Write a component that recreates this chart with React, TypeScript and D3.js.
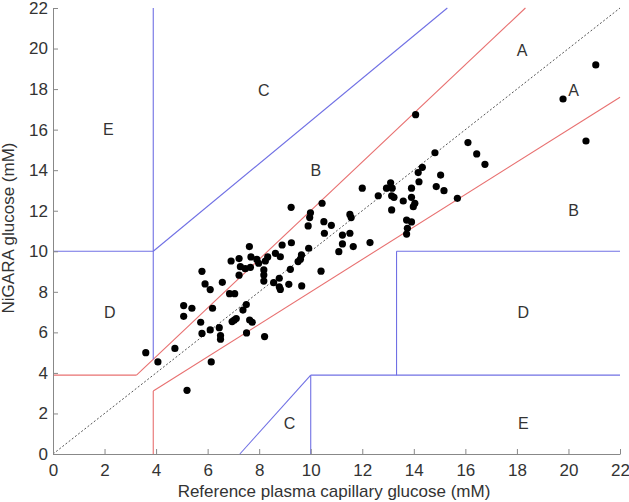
import * as d3 from 'd3'
import { useEffect, useRef } from 'react'

// reference glucose (mM) vs NiGARA glucose (mM)
const REF = [
  3.6, 4.07, 4.73, 5.2, 6.14, 5.07, 5.39, 5.07, 5.78, 5.9, 6.1, 6.57, 6.19, 5.73, 5.78, 6.1, 6.45, 6.5,
  6.5, 6.85, 7.05, 6.91, 7.22, 7.62, 7.68, 7.27, 7.46, 7.66, 7.22, 7.91, 7.98, 7.5, 7.37, 7.11, 6.95,
  7.03, 7.63, 7.73, 7.51, 8.21, 8.18, 8.18, 8.18, 8.24, 8.33, 8.63, 8.82, 8.89, 9.25, 9.21, 8.56, 8.78,
  8.78, 8.82, 9.15, 9.65, 9.64, 9.6, 9.51, 9.92, 9.9, 10.4, 12.0, 12.62, 9.24, 10.44, 9.99, 9.96, 10.51,
  10.8, 10.53, 11.52, 11.57, 11.23, 11.52, 11.23, 11.65, 11.09, 12.3, 12.94, 13.1, 13.16, 13.14, 13.23,
  13.14, 13.59, 13.91, 13.91, 14.04, 13.98, 13.72, 13.91, 13.75, 13.72, 14.2, 14.17, 14.33, 14.82,
  14.87, 15.17, 15.04, 15.69, 16.1, 16.44, 16.76, 14.07, 19.79, 21.06, 20.68,
]
const NIGARA = [
  5.0, 4.54, 5.21, 3.14, 4.54, 7.32, 7.19, 6.79, 9.01, 8.39, 8.11, 8.47, 7.19, 6.5, 5.95, 6.12, 6.23, 5.84,
  5.66, 7.91, 7.91, 9.52, 9.64, 10.23, 9.72, 9.24, 9.14, 9.21, 8.82, 9.6, 9.41, 7.37, 7.1, 6.68, 6.53,
  6.6, 6.61, 6.5, 5.97, 5.79, 9.08, 8.83, 8.53, 9.52, 9.72, 9.9, 9.73, 10.31, 10.42, 9.11, 8.45, 8.67,
  8.25, 8.12, 8.37, 8.29, 9.82, 9.61, 9.49, 10.15, 11.25, 9.02, 13.11, 12.74, 12.17, 12.37, 11.9, 11.66,
  11.46, 11.28, 10.89, 11.82, 11.66, 10.8, 10.89, 10.36, 10.23, 9.98, 10.43, 13.11, 13.38, 13.11, 12.74,
  12.66, 12.04, 12.48, 13.11, 12.66, 12.37, 12.2, 11.54, 11.45, 11.13, 10.85, 13.43, 13.88, 14.14, 14.86,
  13.19, 12.99, 13.76, 12.61, 15.36, 14.8, 14.29, 16.74, 17.51, 19.19, 15.44,
]

// Clarke error grid boundaries, [x1, y1, x2, y2] in mM
const RED_LINES = [
  [0, 3.89, 3.24, 3.89],
  [3.24, 3.89, 18.33, 22],
  [3.89, 0, 3.89, 3.11],
  [3.89, 3.11, 22, 17.6],
]
const BLUE_LINES = [
  [3.89, 4.67, 3.89, 22],
  [0, 10, 3.89, 10],
  [3.89, 10, 15.3, 22],
  [10, 0, 10, 3.89],
  [10, 3.89, 22, 3.89],
  [13.33, 3.89, 13.33, 10],
  [13.33, 10, 22, 10],
  [7.25, 0, 10, 3.89],
]

const ZONE_NAMES = ['A', 'A', 'B', 'B', 'C', 'C', 'D', 'D', 'E', 'E']
const ZONE_X = [18.2, 20.2, 10.2, 20.2, 8.18, 9.18, 2.2, 18.25, 2.15, 18.25]
const ZONE_Y = [19.9, 17.95, 14.0, 12.0, 17.95, 1.5, 7.0, 7.0, 16.0, 1.5]

const TICKS = [0, 2, 4, 6, 8, 10, 12, 14, 16, 18, 20, 22]

export default function App() {
  const ref = useRef<HTMLDivElement>(null)

  useEffect(() => {
    const width = 629
    const height = 502
    const marginLeft = 53
    const marginRight = 9
    const marginTop = 8
    const marginBottom = 48
    const font = '"Liberation Sans", Arial, sans-serif'

    const x = d3.scaleLinear().domain([0, 22]).range([marginLeft, width - marginRight])
    const y = d3.scaleLinear().domain([0, 22]).range([height - marginBottom, marginTop])

    const svg = d3
      .create('svg')
      .attr('width', width)
      .attr('height', height)
      .attr('viewBox', [0, 0, width, height])
      .attr('style', `position: absolute; left: 0; top: 0; background: #fff; font-family: ${font};`)

    /* diagonal */
    svg
      .append('line')
      .attr('x1', x(0))
      .attr('y1', y(0))
      .attr('x2', x(22))
      .attr('y2', y(22))
      .attr('stroke', '#555')
      .attr('stroke-width', 1)
      .attr('stroke-dasharray', '2,2')

    /* zone boundaries */
    const drawLines = (lines: number[][], color: string) =>
      svg
        .append('g')
        .attr('stroke', color)
        .attr('stroke-width', 1.1)
        .selectAll()
        .data(lines)
        .join('line')
        .attr('x1', (d) => x(d[0]))
        .attr('y1', (d) => y(d[1]))
        .attr('x2', (d) => x(d[2]))
        .attr('y2', (d) => y(d[3]))
    drawLines(RED_LINES, '#e87070')
    drawLines(BLUE_LINES, '#7070e4')

    /* zone labels */
    svg
      .append('g')
      .attr('fill', '#333')
      .attr('font-size', 16)
      .attr('text-anchor', 'middle')
      .selectAll()
      .data(ZONE_NAMES)
      .join('text')
      .attr('x', (_, i) => x(ZONE_X[i]))
      .attr('y', (_, i) => y(ZONE_Y[i]))
      .attr('dy', '0.36em')
      .text((d) => d)

    /* points */
    svg
      .append('g')
      .attr('fill', '#000')
      .selectAll()
      .data(REF)
      .join('circle')
      .attr('cx', (d) => x(d))
      .attr('cy', (_, i) => y(NIGARA[i]))
      .attr('r', 3.6)

    /* axes */
    const xAxis = svg
      .append('g')
      .attr('transform', `translate(0, ${y(0)})`)
      .call(d3.axisBottom(x).tickValues(TICKS).tickSize(-5).tickSizeOuter(0).tickPadding(10))
    const yAxis = svg
      .append('g')
      .attr('transform', `translate(${x(0)}, 0)`)
      .call(d3.axisLeft(y).tickValues(TICKS).tickSize(-5).tickSizeOuter(0).tickPadding(5))
    for (const g of [xAxis, yAxis]) {
      g.select('.domain').attr('stroke', '#888')
      g.selectAll('.tick line').attr('stroke', '#888')
      g.selectAll('.tick text').attr('fill', '#333').attr('font-size', 17).attr('font-family', font)
    }

    svg
      .append('text')
      .attr('x', 334)
      .attr('y', 497)
      .attr('text-anchor', 'middle')
      .attr('font-size', 17)
      .attr('fill', '#333')
      .text('Reference plasma capillary glucose (mM)')
    svg
      .append('text')
      .attr('transform', `translate(14, 228) rotate(-90)`)
      .attr('text-anchor', 'middle')
      .attr('font-size', 17)
      .attr('fill', '#333')
      .text('NiGARA glucose (mM)')

    const node = svg.node()
    if (ref.current && node) {
      ref.current.innerHTML = ''
      ref.current.appendChild(node)
    }
  }, [])

  return <div ref={ref} />
}
